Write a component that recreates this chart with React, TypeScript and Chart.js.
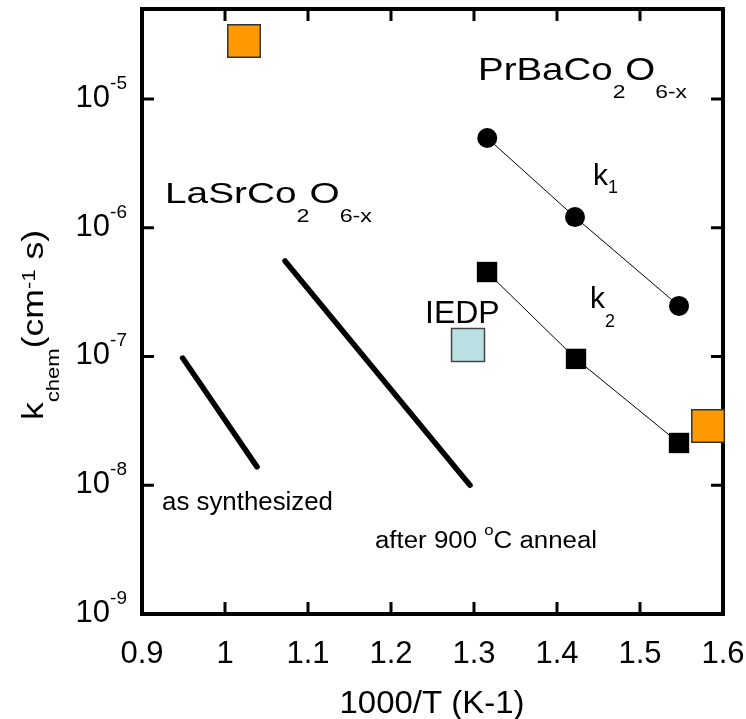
import React, { useEffect, useRef } from "react";
import { Chart, registerables } from "chart.js";

Chart.register(...registerables);

// ---- data ----
const synthX = [0.949, 1.0386];
const synthY = [9.73e-8, 1.39e-8];
const annealX = [1.0723, 1.2952];
const annealY = [5.52e-7, 1.0e-8];
const k1X = [1.316, 1.4217, 1.547];
const k1Y = [4.98e-6, 1.21e-6, 2.47e-7];
const k2X = [1.3157, 1.4229, 1.547];
const k2Y = [4.53e-7, 9.58e-8, 2.13e-8];
const orangeX = [1.0229, 1.582];
const orangeY = [2.82e-5, 2.88e-8];
const iedpX = [1.2928];
const iedpY = [1.23e-7];

const X_TICKS = [0.9, 1.0, 1.1, 1.2, 1.3, 1.4, 1.5, 1.6];
const X_TICK_LABELS = ["0.9", "1", "1.1", "1.2", "1.3", "1.4", "1.5", "1.6"];
const Y_TICKS = [1e-9, 1e-8, 1e-7, 1e-6, 1e-5];
const Y_TICK_EXP = ["-9", "-8", "-7", "-6", "-5"];
const X_TITLE = "1000/T (K-1)";

const FF = '"Liberation Sans", Arial, Helvetica, sans-serif';

type Part = { t: string; s: number; dy?: number };

function drawRich(
  ctx: CanvasRenderingContext2D,
  x: number,
  y: number,
  parts: Part[],
  opts: { align?: "left" | "center" | "right"; target?: number; rotate?: boolean } = {}
) {
  ctx.save();
  ctx.textAlign = "left";
  ctx.textBaseline = "alphabetic";
  ctx.fillStyle = "#000";
  let w = 0;
  for (const p of parts) {
    ctx.font = `${p.s}px ${FF}`;
    w += ctx.measureText(p.t).width;
  }
  const sx = opts.target ? opts.target / w : 1;
  ctx.translate(x, y);
  if (opts.rotate) ctx.rotate(-Math.PI / 2);
  ctx.scale(sx, 1);
  let cx = 0;
  if (opts.align === "center") cx = -w / 2;
  else if (opts.align === "right") cx = -w;
  for (const p of parts) {
    ctx.font = `${p.s}px ${FF}`;
    ctx.fillText(p.t, cx, p.dy || 0);
    cx += ctx.measureText(p.t).width;
  }
  ctx.restore();
}

const framePlugin = {
  id: "frameTicks",
  beforeDatasetsDraw(chart: any) {
    const { ctx, chartArea, scales } = chart;
    const { left, right, top, bottom } = chartArea;
    const xs = scales.x;
    const ys = scales.y;
    ctx.save();
    ctx.strokeStyle = "#000";
    ctx.lineWidth = 3;
    ctx.beginPath();
    for (const v of X_TICKS) {
      const px = xs.getPixelForValue(v);
      ctx.moveTo(px, bottom);
      ctx.lineTo(px, bottom - 12);
      ctx.moveTo(px, top);
      ctx.lineTo(px, top + 12);
    }
    for (const v of Y_TICKS) {
      const py = ys.getPixelForValue(v);
      ctx.moveTo(left, py);
      ctx.lineTo(left + 12, py);
      ctx.moveTo(right, py);
      ctx.lineTo(right - 12, py);
    }
    ctx.stroke();
    ctx.lineWidth = 4;
    ctx.strokeRect(left, top, right - left, bottom - top);
    ctx.restore();
  },
  afterDraw(chart: any) {
    const { ctx, chartArea, scales } = chart;
    const { left, bottom } = chartArea;
    const xs = scales.x;
    const ys = scales.y;
    // x tick labels
    X_TICKS.forEach((v, i) => {
      drawRich(ctx, xs.getPixelForValue(v), bottom + 49, [{ t: X_TICK_LABELS[i], s: 31 }], { align: "center" });
    });
    // y tick labels
    Y_TICKS.forEach((v, i) => {
      const py = ys.getPixelForValue(v);
      ctx.save();
      ctx.font = `19px ${FF}`;
      const supW = ctx.measureText(Y_TICK_EXP[i]).width;
      ctx.restore();
      const rightEdge = left - 15;
      drawRich(ctx, rightEdge - supW, py + 8, [{ t: "10", s: 31 }], { align: "right" });
      drawRich(ctx, rightEdge - supW, py - 10, [{ t: Y_TICK_EXP[i], s: 19 }], { align: "left" });
    });
    // axis titles
    drawRich(ctx, 432, 713, [{ t: X_TITLE, s: 32 }], { align: "center", target: 185 });
    drawRich(
      ctx,
      43,
      420,
      [
        { t: "k", s: 29 },
        { t: "chem", s: 18, dy: 16 },
        { t: "(cm", s: 29 },
        { t: "-1", s: 18, dy: -8 },
        { t: " s)", s: 29 },
      ],
      { rotate: true, target: 190 }
    );
    // annotations
    drawRich(
      ctx,
      478,
      80,
      [
        { t: "PrBaCo", s: 32 },
        { t: "2", s: 19, dy: 18 },
        { t: "O", s: 32 },
        { t: "6-x", s: 19, dy: 18 },
      ],
      { target: 209 }
    );
    drawRich(
      ctx,
      165,
      203,
      [
        { t: "LaSrCo", s: 30 },
        { t: "2", s: 18, dy: 19 },
        { t: "O", s: 30 },
        { t: "6-x", s: 18, dy: 19 },
      ],
      { target: 207 }
    );
    drawRich(ctx, 593, 185, [
      { t: "k", s: 30 },
      { t: "1", s: 18, dy: 8 },
    ]);
    drawRich(ctx, 590, 308, [
      { t: "k", s: 30 },
      { t: "2", s: 18, dy: 19 },
    ]);
    drawRich(ctx, 425, 323, [{ t: "IEDP", s: 32 }]);
    drawRich(ctx, 162, 510, [{ t: "as synthesized", s: 25 }], { target: 171 });
    drawRich(
      ctx,
      375,
      548,
      [
        { t: "after 900 ", s: 23 },
        { t: "o", s: 15, dy: -13 },
        { t: "C anneal", s: 23 },
      ],
      { target: 222 }
    );
  },
};

function pts(xs: number[], ys: number[]) {
  return xs.map((x, i) => ({ x, y: ys[i] }));
}

export default function App() {
  const ref = useRef<HTMLCanvasElement>(null);
  useEffect(() => {
    document.body.style.margin = "0";
    document.body.style.overflow = "hidden";
    const canvas = ref.current!;
    const chart = new Chart(canvas, {
      type: "scatter",
      data: {
        datasets: [
          {
            data: pts(synthX, synthY),
            showLine: true,
            borderColor: "#000",
            borderWidth: 5.5,
            borderCapStyle: "round",
            pointRadius: 0,
          },
          {
            data: pts(annealX, annealY),
            showLine: true,
            borderColor: "#000",
            borderWidth: 5.5,
            borderCapStyle: "round",
            pointRadius: 0,
          },
          {
            data: pts(k1X, k1Y),
            showLine: true,
            borderColor: "#000",
            borderWidth: 1,
            pointStyle: "circle",
            pointRadius: 10,
            pointBackgroundColor: "#000",
            pointBorderWidth: 0,
          },
          {
            data: pts(k2X, k2Y),
            showLine: true,
            borderColor: "#000",
            borderWidth: 1,
            pointStyle: "rect",
            pointRadius: 14.4,
            pointBackgroundColor: "#000",
            pointBorderWidth: 0,
          },
          {
            data: pts(orangeX, orangeY),
            showLine: false,
            pointStyle: "rect",
            pointRadius: 23,
            pointBackgroundColor: "#FF9900",
            pointBorderColor: "#333",
            pointBorderWidth: 1.5,
            clip: false as any,
          },
          {
            data: pts(iedpX, iedpY),
            showLine: false,
            pointStyle: "rect",
            pointRadius: 23.3,
            pointBackgroundColor: "#BBE0E3",
            pointBorderColor: "#444",
            pointBorderWidth: 1.5,
          },
        ] as any,
      },
      options: {
        responsive: false,
        maintainAspectRatio: false,
        animation: false,
        events: [],
        layout: { autoPadding: false, padding: { left: 142, top: 9, right: 23, bottom: 105 } },
        plugins: { legend: { display: false }, tooltip: { enabled: false } },
        scales: {
          x: { type: "linear", min: 0.9, max: 1.6, bounds: "data", display: false },
          y: { type: "logarithmic", min: 1e-9, max: 5e-5, bounds: "data", display: false },
        },
      },
      plugins: [framePlugin],
    });
    return () => chart.destroy();
  }, []);
  return (
    <div style={{ width: 746, height: 719, overflow: "hidden", background: "#fff" }}>
      <canvas ref={ref} width={746} height={719} style={{ display: "block" }} />
    </div>
  );
}
